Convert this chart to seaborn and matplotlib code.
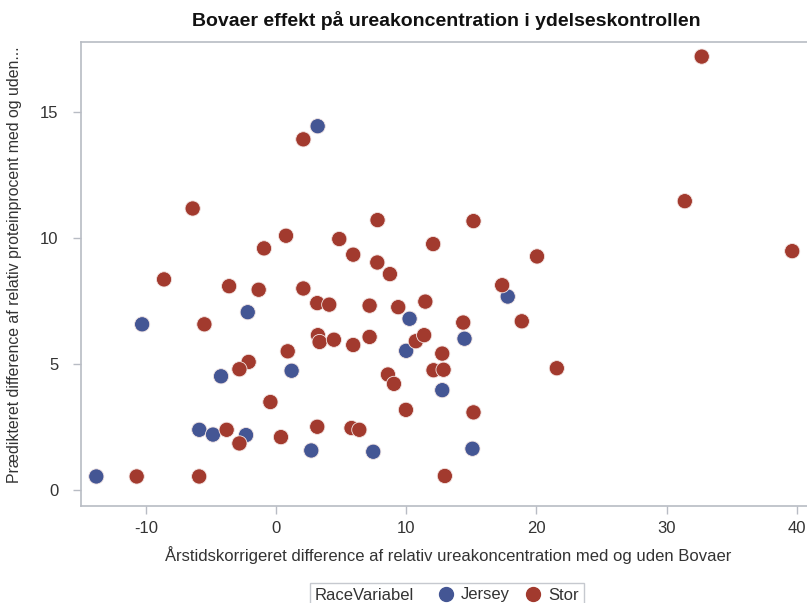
import matplotlib
matplotlib.use("Agg")
import matplotlib.pyplot as plt
import seaborn as sns
import pandas as pd
from matplotlib.lines import Line2D
from matplotlib.offsetbox import HPacker

# ---- data ----
jersey_x = [3.2, -2.17, -10.28, 10.26, 10.0, 1.2, -4.22, -5.89, -4.84, -2.3,
            2.71, 7.47, -13.8, 17.8, 14.48, 12.77, 15.09]
jersey_y = [14.42, 7.05, 6.57, 6.79, 5.52, 4.73, 4.51, 2.39, 2.2, 2.18,
            1.57, 1.52, 0.54, 7.67, 6.0, 3.96, 1.64]

stor_x = [32.7, 2.1, 31.4, -6.4, 7.8, 15.17, 0.77, 4.86, 12.07, -0.92,
          5.93, 39.65, 20.05, 7.78, 8.75, -8.6, 17.37, -3.6, -1.33, 2.1,
          3.17, 4.09, 7.19, 9.39, 11.47, -5.5, 14.38, 18.88, 3.22, 3.35,
          4.45, 5.93, 7.19, 10.74, 11.38, 0.9, 12.77, -2.1, -2.81, 8.6,
          9.06, 12.1, 12.87, 21.57, -0.43, 9.98, 15.17, -3.79, -2.81, 0.38,
          3.17, 5.8, 6.4, -10.7, -5.9, 12.97]
stor_y = [17.18, 13.9, 11.45, 11.16, 10.7, 10.66, 10.08, 9.95, 9.75, 9.58,
          9.33, 9.47, 9.26, 9.02, 8.56, 8.35, 8.12, 8.08, 7.94, 7.99,
          7.41, 7.35, 7.31, 7.25, 7.47, 6.57, 6.64, 6.69, 6.14, 5.87,
          5.96, 5.75, 6.07, 5.9, 6.14, 5.5, 5.41, 5.08, 4.79, 4.58,
          4.21, 4.75, 4.77, 4.83, 3.49, 3.18, 3.08, 2.39, 1.85, 2.1,
          2.51, 2.46, 2.39, 0.54, 0.54, 0.56]

groups = ["Jersey", "Stor"]
colors = {"Jersey": "#445694", "Stor": "#A23A2E"}

title = "Bovaer effekt på ureakoncentration i ydelseskontrollen"
xlabel = "Årstidskorrigeret difference af relativ ureakoncentration med og uden Bovaer"
ylabel = "Prædikteret difference af relativ proteinprocent med og uden..."
legend_title = "RaceVariabel"

df = pd.DataFrame({
    "x": jersey_x + stor_x,
    "y": jersey_y + stor_y,
    "RaceVariabel": ["Jersey"] * len(jersey_x) + ["Stor"] * len(stor_x),
})

sns.set_style("white")
plt.rcParams["font.family"] = ["Liberation Sans", "DejaVu Sans"]
plt.rcParams["axes.unicode_minus"] = False

W, H = 807, 603
fig = plt.figure(figsize=(W / 100, H / 100), dpi=100)
left, right, top, bottom = 80.7, 815, 42.2, 506
ax = fig.add_axes([left / W, 1 - bottom / H, (right - left) / W, (bottom - top) / H])

sns.scatterplot(data=df, x="x", y="y", hue="RaceVariabel", hue_order=groups,
                palette=colors, s=120, edgecolor="#f4e6e4", linewidth=0.6,
                ax=ax, legend=False, zorder=3)

ax.set_xlim(-15.0, 41.4)
ax.set_ylim(-0.63, 17.75)
ax.set_xticks([-10, 0, 10, 20, 30, 40])
ax.set_yticks([0, 5, 10, 15])

for sp in ax.spines.values():
    sp.set_color("#b8bcc4")
    sp.set_linewidth(1.2)

ax.tick_params(axis="both", direction="out", length=6, width=1,
               color="#b8bcc4", labelcolor="#333333", labelsize=12,
               bottom=True, left=True)
ax.tick_params(axis="y", pad=10)
ax.tick_params(axis="x", pad=5)

ax.set_xlabel(xlabel, fontsize=12, color="#333333", labelpad=7)
ax.set_ylabel(ylabel, fontsize=11.4, color="#333333")
ax.yaxis.set_label_coords(-(left - 22) / (right - left), (bottom - 265) / (bottom - top))
fig.suptitle(title, fontsize=14, fontweight="bold", color="#111111",
             x=446 / W, y=1 - 20 / H, va="center")

fs = 12
handles = []
for g in groups:
    handles.append(Line2D([], [], linestyle="none", marker="o", markersize=10,
                          markerfacecolor=colors[g], markeredgecolor=colors[g]))
leg = fig.legend(handles, groups, loc="center", ncol=2, title=legend_title,
                 title_fontsize=fs,
                 bbox_to_anchor=(447 / W, 1 - 595 / H), frameon=True,
                 fontsize=fs, handlelength=0.8, handletextpad=0.5,
                 columnspacing=1.0, borderpad=0.3, fancybox=False)
# place the legend title inline, to the left of the entries
try:
    box = HPacker(pad=leg.borderpad * fs, sep=1.5 * fs, align="center",
                  children=[leg._legend_title_box, leg._legend_handle_box])
    box.set_figure(fig)
    box.axes = leg.axes
    box.set_offset(leg._findoffset)
    leg._legend_box = box
except Exception:
    pass
leg.get_title().set_color("#333333")
leg.get_frame().set_edgecolor("#b8bcc4")
leg.get_frame().set_linewidth(1.0)
for t in leg.get_texts():
    t.set_color("#333333")

fig.savefig("out.png", dpi=100)
